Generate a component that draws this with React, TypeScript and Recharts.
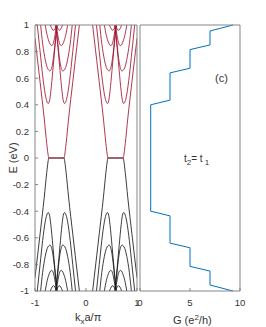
import React from 'react';
import { LineChart, Line, XAxis, YAxis } from 'recharts';

type Pt = { k: number; e: number };

const RED = '#a2142f';
const BLACK = '#1a1a1a';
const BLUE = '#0072bd';
const AXIS = '#858585';
const TEXT = '#333333';
const FONT = '"Liberation Sans Narrow", "Liberation Sans", Arial, sans-serif';

// conduction subbands of the left valley (kx a/pi < 0)
const band0: Pt[] = [
  { k: -1, e: 0.9 }, { k: -0.9, e: 0.57 }, { k: -0.82, e: 0.3 }, { k: -0.77, e: 0.11 },
  { k: -0.745, e: 0.03 }, { k: -0.73, e: 0 }, { k: -0.58, e: 0 }, { k: -0.43, e: 0 },
  { k: -0.415, e: 0.03 }, { k: -0.39, e: 0.11 }, { k: -0.34, e: 0.3 }, { k: -0.26, e: 0.57 },
  { k: -0.16, e: 0.9 }, { k: -0.13, e: 1 },
];
const band1a: Pt[] = [
  { k: -0.955, e: 1 }, { k: -0.9, e: 0.8 }, { k: -0.85, e: 0.62 }, { k: -0.8, e: 0.48 },
  { k: -0.77, e: 0.43 }, { k: -0.74, e: 0.41 }, { k: -0.715, e: 0.43 }, { k: -0.69, e: 0.5 },
  { k: -0.65, e: 0.66 }, { k: -0.61, e: 0.83 }, { k: -0.565, e: 1 },
];
const band1b: Pt[] = [
  { k: -0.595, e: 1 }, { k: -0.55, e: 0.83 }, { k: -0.51, e: 0.66 }, { k: -0.47, e: 0.5 },
  { k: -0.445, e: 0.43 }, { k: -0.42, e: 0.41 }, { k: -0.39, e: 0.43 }, { k: -0.36, e: 0.48 },
  { k: -0.31, e: 0.62 }, { k: -0.26, e: 0.8 }, { k: -0.205, e: 1 },
];
const band2a: Pt[] = [
  { k: -0.89, e: 1 }, { k: -0.85, e: 0.86 }, { k: -0.8, e: 0.74 }, { k: -0.76, e: 0.68 },
  { k: -0.73, e: 0.66 }, { k: -0.706, e: 0.654 }, { k: -0.685, e: 0.665 }, { k: -0.66, e: 0.7 },
  { k: -0.63, e: 0.78 }, { k: -0.6, e: 0.89 }, { k: -0.57, e: 1 },
];
const band2b: Pt[] = [
  { k: -0.59, e: 1 }, { k: -0.56, e: 0.89 }, { k: -0.53, e: 0.78 }, { k: -0.5, e: 0.7 },
  { k: -0.475, e: 0.665 }, { k: -0.454, e: 0.654 }, { k: -0.43, e: 0.66 }, { k: -0.4, e: 0.68 },
  { k: -0.36, e: 0.74 }, { k: -0.31, e: 0.86 }, { k: -0.27, e: 1 },
];
const band3a: Pt[] = [
  { k: -0.8, e: 1 }, { k: -0.76, e: 0.92 }, { k: -0.72, e: 0.87 }, { k: -0.695, e: 0.85 },
  { k: -0.673, e: 0.845 }, { k: -0.655, e: 0.85 }, { k: -0.635, e: 0.87 }, { k: -0.605, e: 0.93 },
  { k: -0.575, e: 1 },
];
const band3b: Pt[] = [
  { k: -0.585, e: 1 }, { k: -0.555, e: 0.93 }, { k: -0.525, e: 0.87 }, { k: -0.505, e: 0.85 },
  { k: -0.487, e: 0.845 }, { k: -0.465, e: 0.85 }, { k: -0.44, e: 0.87 }, { k: -0.4, e: 0.92 },
  { k: -0.36, e: 1 },
];
const band4a: Pt[] = [
  { k: -0.7, e: 1 }, { k: -0.665, e: 0.97 }, { k: -0.635, e: 0.96 }, { k: -0.61, e: 0.97 },
  { k: -0.58, e: 1 },
];
const band4b: Pt[] = [
  { k: -0.58, e: 1 }, { k: -0.55, e: 0.97 }, { k: -0.525, e: 0.96 }, { k: -0.495, e: 0.97 },
  { k: -0.46, e: 1 },
];
const leftValley = [band0, band1a, band1b, band2a, band2b, band3a, band3b, band4a, band4b];

// the right valley is the mirror image in kx, the valence bands the mirror image in E
const mirrorK = (c: Pt[]) => c.map((p) => ({ k: -p.k, e: p.e })).reverse();
const mirrorE = (c: Pt[]) => c.map((p) => ({ k: p.k, e: -p.e }));
const conduction = [...leftValley, ...leftValley.map(mirrorK)];
const valence = conduction.map(mirrorE);

// conductance staircase, G (e^2/h) against E (eV)
const gValues = [9.3, 7, 7, 5, 5, 3, 3, 1.07, 1.07, 3, 3, 5, 5, 7, 7, 9.3];
const eValues = [-1, -0.955, -0.85, -0.815, -0.675, -0.64, -0.435, -0.4, 0.4, 0.435, 0.64, 0.675, 0.815, 0.85, 0.955, 1];
const conductance = gValues.map((g, i) => ({ g, e: eValues[i] }));

const eTicks = [-1, -0.8, -0.6, -0.4, -0.2, 0, 0.2, 0.4, 0.6, 0.8, 1];
const kTicks = [-1, 0, 1];
const gTicks = [0, 5, 10];

const tickStyle = { fontSize: 9.5, fill: TEXT, fontFamily: FONT };
const fmt = (v: number) => String(Number(v.toFixed(1)));

export default function App() {
  return (
    <div style={{ position: 'absolute', left: 0, top: 0, width: 266, height: 327, background: '#fff' }}>
      <LineChart width={140} height={327} margin={{ top: 0, right: 0, bottom: 0, left: 0 }}
        style={{ position: 'absolute', left: 0, top: 0 }}>
        <XAxis xAxisId="b" type="number" dataKey="k" domain={[-1, 1]} ticks={kTicks} allowDataOverflow
          height={36} tickSize={-3} tickMargin={11} stroke={AXIS} tick={tickStyle} interval={0} />
        <XAxis xAxisId="t" orientation="top" type="number" dataKey="k" domain={[-1, 1]} ticks={kTicks}
          height={25} tickSize={-3} tick={false} stroke={AXIS} />
        <YAxis yAxisId="l" type="number" domain={[-1, 1]} ticks={eTicks} allowDataOverflow width={35}
          tickSize={-3} tickMargin={9} stroke={AXIS} tick={tickStyle} tickFormatter={fmt} interval={0} />
        <YAxis yAxisId="r" orientation="right" type="number" domain={[-1, 1]} ticks={eTicks} width={3}
          tickSize={-3} tick={false} stroke={AXIS} />
        {valence.map((c, i) => (
          <Line key={'v' + i} xAxisId="b" yAxisId="l" data={c} dataKey="e" type="monotone"
            stroke={BLACK} strokeWidth={0.85} dot={false} isAnimationActive={false} />
        ))}
        {conduction.map((c, i) => (
          <Line key={'c' + i} xAxisId="b" yAxisId="l" data={c} dataKey="e" type="monotone"
            stroke={RED} strokeWidth={0.85} dot={false} isAnimationActive={false} />
        ))}
      </LineChart>

      <LineChart width={136} height={327} data={conductance} margin={{ top: 0, right: 16, bottom: 0, left: 0 }}
        style={{ position: 'absolute', left: 130, top: 0 }}>
        <XAxis xAxisId="b" type="number" dataKey="g" domain={[0, 10]} ticks={gTicks}
          height={36} tickSize={-3} tickMargin={11} stroke={AXIS} tick={tickStyle} interval={0} />
        <XAxis xAxisId="t" orientation="top" type="number" dataKey="g" domain={[0, 10]} ticks={gTicks}
          height={25} tickSize={-3} tick={false} stroke={AXIS} />
        <YAxis yAxisId="l" type="number" domain={[-1, 1]} ticks={eTicks} width={10}
          tickSize={-3} tick={false} stroke={AXIS} />
        <YAxis yAxisId="r" orientation="right" type="number" domain={[-1, 1]} ticks={eTicks} width={10}
          tickSize={-3} tick={false} stroke={AXIS} />
        <Line xAxisId="b" yAxisId="l" dataKey="e" type="linear" stroke={BLUE} strokeWidth={1}
          dot={false} isAnimationActive={false} />
      </LineChart>

      <svg width={266} height={327} style={{ position: 'absolute', left: 0, top: 0, pointerEvents: 'none' }}
        fontFamily={FONT} fill={TEXT}>
        <text x={17} y={158} fontSize={11} textAnchor="middle" transform="rotate(-90 17 158)">E (eV)</text>
        <text x={75} y={321} fontSize={11}>
          k<tspan fontSize={8} dy={3}>x</tspan><tspan dy={-3}>a/π</tspan>
        </text>
        <text x={173} y={324} fontSize={11}>
          G (e<tspan fontSize={8} dy={-4}>2</tspan><tspan dy={4}>/h)</tspan>
        </text>
        <text x={215} y={82} fontSize={11}>(c)</text>
        <text x={184} y={162} fontSize={10}>
          t<tspan fontSize={8} dy={3}>2</tspan><tspan dy={-3}>= t</tspan><tspan fontSize={8} dy={3}> 1</tspan>
        </text>
      </svg>
    </div>
  );
}
